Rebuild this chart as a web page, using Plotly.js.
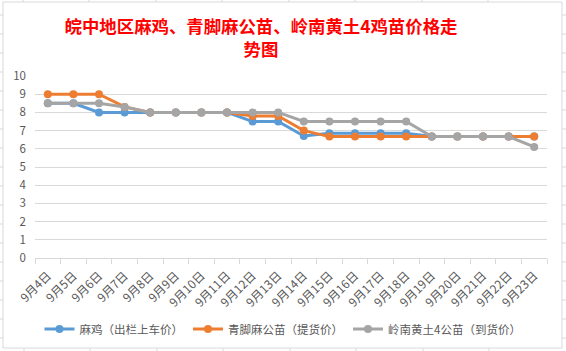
<!DOCTYPE html>
<html>
<head>
<meta charset="utf-8">
<script src="https://cdn.plot.ly/plotly-3.0.1.min.js"></script>
<style>
html,body{margin:0;padding:0;background:#fff;}
#chart{width:566px;height:351px;}
</style>
</head>
<body>
<div id="chart"></div>
<script>
const categories = ["9月4日","9月5日","9月6日","9月7日","9月8日","9月9日","9月10日","9月11日","9月12日","9月13日","9月14日","9月15日","9月16日","9月17日","9月18日","9月19日","9月20日","9月21日","9月22日","9月23日"];
const maji = [8.5,8.5,8,8,8,8,8,8,7.5,7.5,6.7,6.85,6.85,6.85,6.85,6.67,6.67,6.67,6.67,6.67];
const qingjiao = [9,9,9,8.3,8,8,8,8,7.8,7.8,7,6.67,6.67,6.67,6.67,6.67,6.67,6.67,6.67,6.67];
const lingnan = [8.5,8.5,8.5,8.3,8,8,8,8,8,8,7.5,7.5,7.5,7.5,7.5,6.67,6.67,6.67,6.67,6.1];
const seriesNames = ["麻鸡（出栏上车价）","青脚麻公苗（提货价）","岭南黄土4公苗（到货价）"];
const colors = ["#5B9BD5","#ED7D31","#A5A5A5"];
const yTicks = [0,1,2,3,4,5,6,7,8,9,10];

const font = '"Noto Sans CJK SC", "Microsoft YaHei", sans-serif';
const data = [maji, qingjiao, lingnan].map((vals, i) => ({
  type: 'scatter', mode: 'lines+markers',
  x: categories, y: vals, name: seriesNames[i],
  line: {color: colors[i], width: 3},
  marker: {color: colors[i], size: 8, symbol: 'circle'}
}));

// pixel -> paper conversion for decorative frame
const L = 35, R = 547, T = 76, B = 258;
const px = x => (x - L) / (R - L);
const py = y => (B - y) / (B - T);
const shapes = [{
  type: 'rect', xref: 'paper', yref: 'paper',
  x0: px(3), x1: px(562), y0: py(348), y1: py(2),
  line: {color: '#D9D9D9', width: 1}, fillcolor: 'rgba(0,0,0,0)', layer: 'below'
}];
const stubCol = '#D9D9D9';
[23, 89, 156, 222, 289, 355, 422, 488].forEach(x => {
  shapes.push({type:'line', xref:'paper', yref:'paper', x0:px(x), x1:px(x), y0:py(0), y1:py(2), line:{color:stubCol,width:1}});
});
[24, 90, 157, 223, 290, 356, 423, 489].forEach(x => {
  shapes.push({type:'line', xref:'paper', yref:'paper', x0:px(x), x1:px(x), y0:py(348), y1:py(351), line:{color:stubCol,width:1}});
});
[15, 34, 53, 72, 91, 110, 129, 148, 167, 186, 205, 224, 243, 262, 281, 300, 319, 338].forEach(y => {
  shapes.push({type:'line', xref:'paper', yref:'paper', x0:px(0), x1:px(3), y0:py(y), y1:py(y), line:{color:stubCol,width:1}});
  shapes.push({type:'line', xref:'paper', yref:'paper', x0:px(562), x1:px(566), y0:py(y), y1:py(y), line:{color:stubCol,width:1}});
});

const layout = {
  width: 566, height: 351,
  margin: {l: L, r: 566 - R, t: T, b: 351 - B, pad: 0, autoexpand: false},
  paper_bgcolor: '#ffffff', plot_bgcolor: '#ffffff',
  showlegend: true,
  title: {
    text: '<b>皖中地区麻鸡、青脚麻公苗、岭南黄土4鸡苗价格走<br>势图</b>',
    font: {family: font, size: 17.4, color: '#FF0000'},
    x: 261 / 566, xref: 'container', xanchor: 'center',
    y: 1 - 33 / 351, yref: 'container', yanchor: 'middle',
    automargin: false
  },
  xaxis: {
    type: 'category', tickangle: -45, automargin: false,
    range: [-0.5, categories.length - 0.5], autorange: false,
    tickfont: {family: font, size: 12, color: '#595959'},
    ticklabelstandoff: 5,
    showgrid: false, showline: true, linecolor: '#D9D9D9', linewidth: 1,
    ticks: 'outside', tickson: 'boundaries', ticklen: 5, tickcolor: '#D9D9D9',
    zeroline: false, fixedrange: true
  },
  yaxis: {
    range: [0, 10], tickvals: yTicks, ticktext: yTicks.map(String), automargin: false,
    tickfont: {family: font, size: 11.5, color: '#595959'},
    showgrid: true, gridcolor: '#D9D9D9', gridwidth: 1,
    showline: false, zeroline: false, ticks: '', ticklabelstandoff: 8,
    fixedrange: true
  },
  legend: {
    orientation: 'h', x: px(283), xanchor: 'center', y: py(329), yanchor: 'middle',
    font: {family: font, size: 11.5, color: '#595959'},
    itemwidth: 30, tracegroupgap: 0, bgcolor: 'rgba(0,0,0,0)'
  },
  shapes: shapes
};

Plotly.newPlot('chart', data, layout, {displayModeBar: false, staticPlot: true});
</script>
</body>
</html>
